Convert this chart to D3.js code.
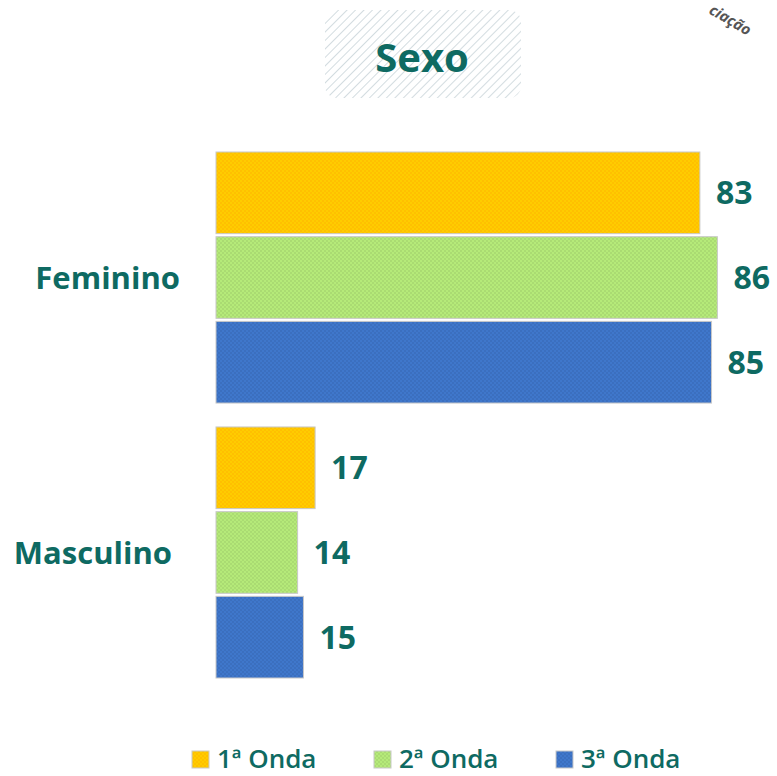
<!DOCTYPE html>
<html>
<head>
<meta charset="utf-8">
<script src="https://cdn.jsdelivr.net/npm/d3@7"></script>
<style>
  body { margin: 0; background: #fff; }
  svg { display: block; font-family: "Open Sans", Lato, sans-serif; }
</style>
</head>
<body>
<svg id="chart" width="777" height="776"></svg>
<script>
var categories = ["Feminino", "Masculino"];
var series = ["1ª Onda", "2ª Onda", "3ª Onda"];
var values = [
  [83, 86, 85],   // Feminino
  [17, 14, 15]    // Masculino
];
var colors = ["#FFC000", "#AADB72", "#3B6FBF"];
var teal = "#0E6A62";

var svg = d3.select("#chart");
var defs = svg.append("defs");

// hatch for the title box
var hatch = defs.append("pattern")
    .attr("id", "hatch")
    .attr("width", 6).attr("height", 6)
    .attr("patternUnits", "userSpaceOnUse")
    .attr("patternTransform", "rotate(45)");
hatch.append("rect").attr("width", 6).attr("height", 6).attr("fill", "#fff");
hatch.append("line")
    .attr("x1", 0).attr("y1", 0).attr("x2", 0).attr("y2", 6)
    .attr("stroke", "#d3dce0").attr("stroke-width", 2);

// dotted texture for the bars
colors.forEach(function(c, i) {
  var p = defs.append("pattern")
      .attr("id", "tex" + i)
      .attr("width", 4).attr("height", 4)
      .attr("patternUnits", "userSpaceOnUse");
  p.append("rect").attr("width", 4).attr("height", 4).attr("fill", c);
  p.append("circle").attr("cx", 1).attr("cy", 1).attr("r", 0.8)
      .attr("fill", d3.color(c).brighter(0.4));
  p.append("circle").attr("cx", 3).attr("cy", 3).attr("r", 0.8)
      .attr("fill", d3.color(c).brighter(0.4));
});

// title
svg.append("rect")
    .attr("x", 325).attr("y", 10).attr("width", 196).attr("height", 88)
    .attr("rx", 12).attr("fill", "url(#hatch)");
svg.append("text")
    .attr("x", 422).attr("y", 72)
    .attr("text-anchor", "middle")
    .attr("font-size", 40).attr("font-weight", "bold")
    .attr("fill", teal)
    .text("Sexo");

// scales
var x = d3.scaleLinear().domain([0, 100]).range([216, 799]);
var y0 = d3.scaleBand().domain(categories).range([152, 678]).paddingInner(0.087);
var y1 = d3.scaleBand().domain(series).range([0, y0.bandwidth()]).paddingInner(0.036);

var groups = svg.selectAll("g.cat")
    .data(categories)
  .enter().append("g")
    .attr("class", "cat")
    .attr("transform", function(d) { return "translate(0," + y0(d) + ")"; });

groups.selectAll("rect")
    .data(function(d, i) { return values[i].map(function(v, j) { return {s: series[j], v: v, j: j}; }); })
  .enter().append("rect")
    .attr("x", x(0))
    .attr("y", function(d) { return y1(d.s); })
    .attr("width", function(d) { return x(d.v) - x(0); })
    .attr("height", y1.bandwidth())
    .attr("fill", function(d) { return "url(#tex" + d.j + ")"; })
    .attr("stroke", "#c8c8c8")
    .attr("stroke-width", 1);

groups.selectAll("text.val")
    .data(function(d, i) { return values[i].map(function(v, j) { return {s: series[j], v: v}; }); })
  .enter().append("text")
    .attr("class", "val")
    .attr("x", function(d) { return x(d.v) + 16; })
    .attr("y", function(d) { return y1(d.s) + y1.bandwidth() / 2; })
    .attr("dy", "0.36em")
    .attr("font-size", 32).attr("font-weight", "bold")
    .attr("fill", teal)
    .text(function(d) { return d.v; });

// category labels
svg.selectAll("text.cat")
    .data(categories)
  .enter().append("text")
    .attr("class", "cat")
    .attr("x", function(d) { return d === "Masculino" ? 172 : 180; })
    .attr("y", function(d) { return y0(d) + y0.bandwidth() / 2; })
    .attr("dy", "0.36em")
    .attr("text-anchor", "end")
    .attr("font-size", 31).attr("font-weight", "bold")
    .attr("fill", teal)
    .text(function(d) { return d; });

// legend
var legendX = [192, 374, 556];
var legend = svg.selectAll("g.leg")
    .data(series)
  .enter().append("g")
    .attr("class", "leg")
    .attr("transform", function(d, i) { return "translate(" + legendX[i] + ",751)"; });
legend.append("rect")
    .attr("width", 17).attr("height", 17)
    .attr("fill", function(d, i) { return "url(#tex" + i + ")"; })
    .attr("stroke", "#c8c8c8");
legend.append("text")
    .attr("x", 25).attr("y", 17)
    .attr("font-size", 26).attr("font-weight", 600)
    .attr("fill", teal)
    .text(function(d) { return d; });

// fragment of a logo at the top right corner
svg.append("text")
    .attr("transform", "translate(708,13) rotate(30)")
    .attr("font-size", 15).attr("font-weight", "bold").attr("font-style", "italic")
    .attr("fill", "#555")
    .text("ciação");
</script>
</body>
</html>
